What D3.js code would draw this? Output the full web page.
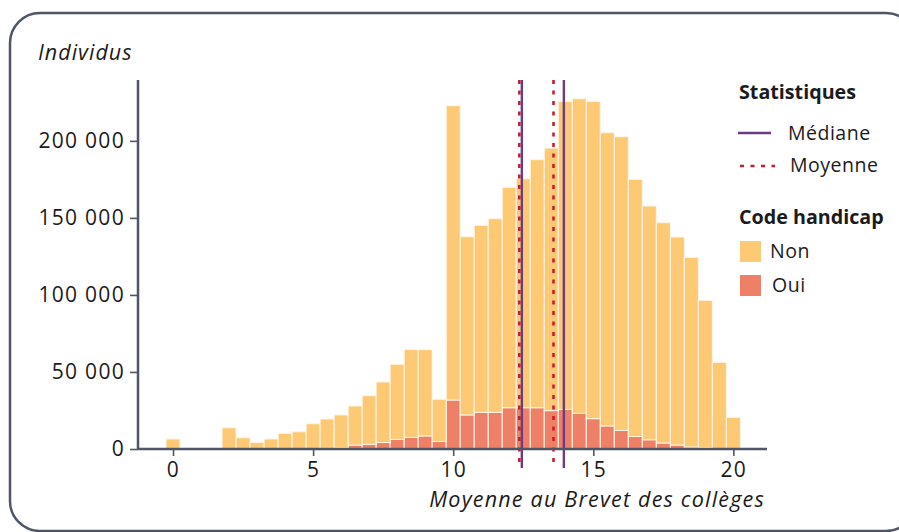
<!DOCTYPE html>
<html lang="fr">
<head>
<meta charset="UTF-8">
<title>Moyenne au Brevet des collèges</title>
<style>
    body { margin: 0; background: #fff; font-family: "Open Sans", "Noto Sans", sans-serif; }
    text { fill: #1b1b1b; }
</style>
</head>
<body>
<script src="https://cdn.jsdelivr.net/npm/d3@7"></script>
<script>

// bins (centre of each half-point bin) and counts
var notes = [0, 2, 2.5, 3, 3.5, 4, 4.5, 5, 5.5, 6, 6.5, 7, 7.5, 8, 8.5, 9, 9.5,
             10, 10.5, 11, 11.5, 12, 12.5, 13, 13.5, 14, 14.5, 15, 15.5, 16, 16.5,
             17, 17.5, 18, 18.5, 19, 19.5, 20];
var oui = [0, 0, 0, 0, 0, 0, 0, 200, 500, 800, 2600, 3000, 4200, 6200, 7500, 8500, 4900,
           31800, 22100, 23800, 23800, 26800, 26800, 26800, 24900, 25700, 23100, 19700, 15000, 12000, 8100,
           6000, 3900, 2600, 1300, 1000, 300, 0];
var non = [6500, 13800, 7300, 4300, 6500, 10200, 11200, 16200, 19000, 21300, 25300, 31600, 39300, 48800, 57000, 56000, 27400,
           191000, 115700, 121400, 125700, 143000, 148600, 161000, 170400, 199900, 204200, 205900, 190300, 190700, 166900,
           151700, 143000, 135000, 123100, 95500, 56000, 20600];

var medianes = [12.45, 13.95];
var moyennes = [12.36, 13.58];

var xTicks = [0, 5, 10, 15, 20];
var yTicks = [0, 50000, 100000, 150000, 200000];

var W = 899, H = 532;
var colNon = "#fdc974", colOui = "#ef8068", colMed = "#6e3a82", colMoy = "#c81e2c", colAxis = "#4f5667";

var fr = d3.formatLocale({ decimal: ",", thousands: " ", grouping: [3], currency: ["", " €"] });
var fmt = fr.format(",d");

var svg = d3.select("body").append("svg")
    .attr("width", W)
    .attr("height", H);

// cadre arrondi
svg.append("rect")
    .attr("x", 10).attr("y", 13)
    .attr("width", 906).attr("height", 518)
    .attr("rx", 30)
    .attr("fill", "none")
    .attr("stroke", colAxis)
    .attr("stroke-width", 2.5);

var x = d3.scaleLinear().domain([-1.25, 21.2]).range([138, 767]);
var y = d3.scaleLinear().domain([0, 239500]).range([449, 80]);

var data = notes.map(function(n, i) { return { note: n, oui: oui[i], non: non[i] }; });
var stack = d3.stack().keys(["oui", "non"])(data);
var couleurs = { oui: colOui, non: colNon };

svg.append("g")
  .selectAll("g")
  .data(stack)
  .enter().append("g")
    .attr("fill", function(d) { return couleurs[d.key]; })
  .selectAll("rect")
  .data(function(d) { return d; })
  .enter().append("rect")
    .attr("x", function(d) { return x(d.data.note - 0.25); })
    .attr("width", function(d) { return x(0.25) - x(-0.25); })
    .attr("y", function(d) { return y(d[1]); })
    .attr("height", function(d) { return Math.max(0, y(d[0]) - y(d[1])); })
    .attr("stroke", "#fff6e6")
    .attr("stroke-width", 1);

// lignes statistiques
svg.append("g").selectAll("line")
    .data(moyennes)
  .enter().append("line")
    .attr("x1", function(d) { return x(d); })
    .attr("x2", function(d) { return x(d); })
    .attr("y1", 80).attr("y2", 468)
    .attr("stroke", colMoy)
    .attr("stroke-width", 2.6)
    .attr("stroke-dasharray", "4,6.5");

svg.append("g").selectAll("line")
    .data(medianes)
  .enter().append("line")
    .attr("x1", function(d) { return x(d); })
    .attr("x2", function(d) { return x(d); })
    .attr("y1", 80).attr("y2", 468)
    .attr("stroke", colMed)
    .attr("stroke-width", 2.4);

// axes
var xAxis = d3.axisBottom(x).tickValues(xTicks).tickSize(7).tickPadding(6).tickFormat(d3.format("d"));
var yAxis = d3.axisLeft(y).tickValues(yTicks).tickSize(8).tickPadding(5).tickFormat(fmt);

var gx = svg.append("g")
    .attr("transform", "translate(0," + y(0) + ")")
    .call(xAxis);
var gy = svg.append("g")
    .attr("transform", "translate(" + x(-1.25) + ",0)")
    .call(yAxis);

[gx, gy].forEach(function(g) {
    g.select(".domain").attr("stroke", colAxis).attr("stroke-width", 2.5);
    g.selectAll(".tick line").attr("stroke", colAxis).attr("stroke-width", 1.6);
    g.selectAll(".tick text")
        .style("font-family", "'Open Sans', sans-serif")
        .style("font-size", "21px")
        .style("letter-spacing", "1.3px")
        .attr("fill", "#1b1b1b");
});
gy.select(".domain").attr("d", "M0," + y(0) + "V80");
gx.select(".domain").attr("d", "M" + x(-1.25) + ",0H767");

svg.append("text")
    .attr("x", 38).attr("y", 60)
    .style("font-size", "21.5px")
    .style("letter-spacing", "1px")
    .style("font-style", "italic")
    .text("Individus");

svg.append("text")
    .attr("x", 765).attr("y", 507)
    .attr("text-anchor", "end")
    .style("font-size", "21.5px")
    .style("letter-spacing", "1.2px")
    .style("font-style", "italic")
    .text("Moyenne au Brevet des collèges");

// légende
var leg = svg.append("g");
leg.append("text").attr("x", 739).attr("y", 99)
    .style("font-size", "19.7px").style("font-weight", "bold").text("Statistiques");
leg.append("line").attr("x1", 738).attr("x2", 771).attr("y1", 133).attr("y2", 133)
    .attr("stroke", colMed).attr("stroke-width", 2.4);
leg.append("text").attr("x", 788).attr("y", 140)
    .style("font-size", "19.5px").style("letter-spacing", "0.5px").text("Médiane");
leg.append("line").attr("x1", 740).attr("x2", 775).attr("y1", 166).attr("y2", 166)
    .attr("stroke", colMoy).attr("stroke-width", 2.6).attr("stroke-dasharray", "4,6.5");
leg.append("text").attr("x", 790).attr("y", 172)
    .style("font-size", "19.5px").style("letter-spacing", "0.5px").text("Moyenne");

leg.append("text").attr("x", 739).attr("y", 224)
    .style("font-size", "19.7px").style("font-weight", "bold").text("Code handicap");
leg.append("rect").attr("x", 740).attr("y", 241).attr("width", 21).attr("height", 21).attr("fill", colNon);
leg.append("text").attr("x", 770).attr("y", 258)
    .style("font-size", "19.5px").style("letter-spacing", "0.5px").text("Non");
leg.append("rect").attr("x", 740).attr("y", 275).attr("width", 21).attr("height", 21).attr("fill", colOui);
leg.append("text").attr("x", 772).attr("y", 292)
    .style("font-size", "19.5px").style("letter-spacing", "0.5px").text("Oui");

</script>
</body>
</html>
